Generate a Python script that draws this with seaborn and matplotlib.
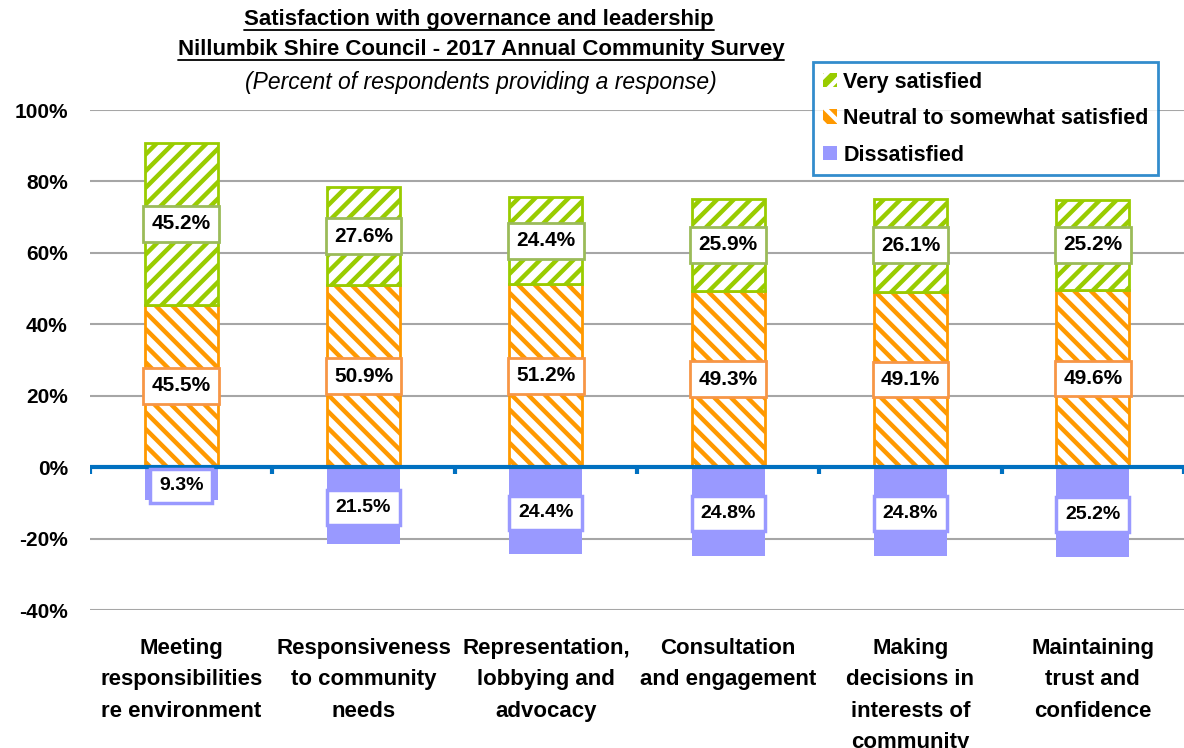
import matplotlib
matplotlib.use('Agg')
import matplotlib.pyplot as plt
import seaborn as sns
import numpy as np
import pandas as pd
from matplotlib.patches import Patch
from matplotlib.lines import Line2D

categories = ["Meeting\nresponsibilities\nre environment",
              "Responsiveness\nto community\nneeds",
              "Representation,\nlobbying and\nadvocacy",
              "Consultation\nand engagement",
              "Making\ndecisions in\ninterests of\ncommunity",
              "Maintaining\ntrust and\nconfidence"]
very_satisfied = [45.2, 27.6, 24.4, 25.9, 26.1, 25.2]
neutral = [45.5, 50.9, 51.2, 49.3, 49.1, 49.6]
dissatisfied = [9.3, 21.5, 24.4, 24.8, 24.8, 25.2]
yticks = [-40, -20, 0, 20, 40, 60, 80, 100]
ytick_labels = ["-40%", "-20%", "0%", "20%", "40%", "60%", "80%", "100%"]
series_names = ["Very satisfied", "Neutral to somewhat satisfied", "Dissatisfied"]

sns.set_theme(style='white')
plt.rcParams['font.family'] = ['Liberation Sans', 'DejaVu Sans']
plt.rcParams['hatch.linewidth'] = 3.2
for k in ('text.color', 'axes.labelcolor', 'xtick.color', 'ytick.color'):
    plt.rcParams[k] = 'black'

green = '#99CC00'
orange = '#FF9900'
purple = '#9999FF'
green_edge = '#9BBB59'
orange_edge = '#F79646'
blue = '#0070C0'

fig = plt.figure(figsize=(11.84, 7.48), dpi=100)
ax = fig.add_axes([90/1184, 138/748, 1094/1184, 500/748])

df = pd.DataFrame({'cat': categories, 'vs': very_satisfied, 'neu': neutral,
                   'dis': [-d for d in dissatisfied]})

sns.barplot(data=df, x='cat', y='neu', color='white', edgecolor=orange, hatch='\\\\',
            linewidth=2, width=0.4, errorbar=None, ax=ax, zorder=3)
sns.barplot(data=df, x='cat', y='vs', bottom=df['neu'].values, color='white', edgecolor=green,
            hatch='//', linewidth=2, width=0.4, errorbar=None, ax=ax, zorder=3)
sns.barplot(data=df, x='cat', y='dis', color=purple, saturation=1, linewidth=0,
            width=0.4, errorbar=None, ax=ax, zorder=3)

ax.set_ylim(-40, 100)
ax.set_xlim(-0.5, len(categories) - 0.5)
ax.set_yticks(yticks)
ax.set_yticklabels(ytick_labels, fontsize=15, fontweight='bold')
ax.set_xlabel('')
ax.set_ylabel('')
for s in ax.spines.values():
    s.set_visible(False)
ax.tick_params(axis='x', length=0, pad=20, labelsize=16)
ax.tick_params(axis='y', length=0, pad=16)
for lbl in ax.get_xticklabels():
    lbl.set_fontweight('bold')
    lbl.set_linespacing(1.66)
    lbl.set_verticalalignment('top')

for y in yticks:
    if y != 0:
        ax.axhline(y, color='#A6A6A6', lw=1.5, zorder=1)
ax.axhline(0, color=blue, lw=3, zorder=4)
bounds = np.arange(len(categories) + 1) - 0.5
ax.vlines(bounds, -1.8, 0, color=blue, lw=3, zorder=4)

for i in range(len(categories)):
    n = neutral[i]; v = very_satisfied[i]; d = dissatisfied[i]
    ax.text(i, n / 2, f"{n:.1f}%", ha='center', va='center', fontsize=15, fontweight='bold',
            zorder=5, bbox=dict(boxstyle='square,pad=0.4', fc='white', ec=orange_edge, lw=2))
    ax.text(i, n + v / 2, f"{v:.1f}%", ha='center', va='center', fontsize=15, fontweight='bold',
            zorder=5, bbox=dict(boxstyle='square,pad=0.4', fc='white', ec=green_edge, lw=2))
    ax.text(i, -d / 2 - 0.6, f"{d:.1f}%", ha='center', va='center', fontsize=14,
            fontweight='bold', zorder=5,
            bbox=dict(boxstyle='square,pad=0.45', fc='white', ec=purple, lw=2.5))

handles = [Patch(facecolor=green, edgecolor='white', hatch='//', lw=0),
           Patch(facecolor=orange, edgecolor='white', hatch='\\\\', lw=0),
           Patch(facecolor=purple, edgecolor=purple, lw=0)]
leg = fig.legend(handles, series_names, loc='upper left', bbox_to_anchor=(813/1184, 1 - 62/748),
                 bbox_transform=fig.transFigure, borderaxespad=0, fancybox=False,
                 frameon=True, handlelength=0.65, handleheight=0.65, handletextpad=0.3,
                 prop={'weight': 'bold', 'size': 15.5}, borderpad=0.45, labelspacing=0.72)
leg.get_frame().set_edgecolor(blue)
leg.get_frame().set_linewidth(2)
leg.set_zorder(10)

t1 = fig.text(479/1184, 1 - 20/748, "Satisfaction with governance and leadership",
              ha='center', va='center', fontsize=16, fontweight='bold')
t2 = fig.text(481/1184, 1 - 50/748, "Nillumbik Shire Council - 2017 Annual Community Survey",
              ha='center', va='center', fontsize=16, fontweight='bold')
t3 = fig.text(481/1184, 1 - 82/748, "(Percent of respondents providing a response)",
              ha='center', va='center', fontsize=16.5, fontstyle='italic')

fig.canvas.draw()
r = fig.canvas.get_renderer()
inv = fig.transFigure.inverted()
for t in (t1, t2):
    bb = t.get_window_extent(r)
    (x0, y0), (x1, y1) = inv.transform([(bb.x0, bb.y0 + 1), (bb.x1, bb.y0 + 1)])
    fig.add_artist(Line2D([x0, x1], [y0, y1], transform=fig.transFigure, color='black', lw=1.3))

fig.savefig('out.png', dpi=100)
